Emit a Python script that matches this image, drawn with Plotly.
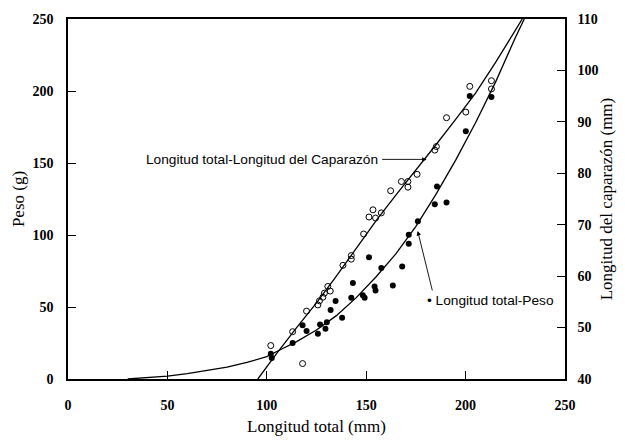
import plotly.graph_objects as go

# Longitud total (mm) vs Longitud del caparazón (mm) - open circles (right axis)
lc_x = [102, 118, 113, 120, 125.7, 128.2, 130.7, 131.9, 138.3, 142.5, 142.5, 148.7, 151.4,
        154.7, 153.4, 157.6, 162.3, 167.7, 171, 171, 175.6, 185.3, 184.5, 190.4, 200.1,
        202.1, 213, 213, 126.5, 129]
lc_y = [46.5, 43.0, 49.2, 53.2, 54.4, 55.9, 58.0, 57.1, 62.1, 63.3, 64.0, 68.2, 71.5,
        71.3, 72.9, 72.3, 76.6, 78.4, 78.4, 77.3, 79.8, 85.2, 84.5, 90.8, 91.9,
        96.9, 98.0, 96.4, 55.2, 56.7]

# Longitud total (mm) vs Peso (g) - filled circles (left axis)
lp_x = [102, 102.5, 113, 118, 120, 125.7, 126.8, 129.5, 130.2, 132.1, 134.6, 137.9, 142.5,
        143.3, 148.3, 149.2, 151.4, 154.2, 154.7, 157.6, 163.4, 168.1, 171.4, 171.4,
        176, 184.5, 185.6, 190.4, 200.1, 202.1, 213]
lp_y = [17.5, 14.5, 25, 37.4, 33.4, 31.4, 37.8, 34.9, 39.4, 47.9, 54.2, 42.5, 56.5,
        66.7, 58.2, 56.5, 84.5, 64.3, 61.4, 77.1, 65, 78.2, 100.1, 93.9,
        109.5, 121.4, 133.7, 122.5, 172, 196.5, 195.8]

# Fitted curves
fit_p_x = [30, 40, 50, 60, 70, 80, 90, 100, 107, 115, 125, 135, 145, 155, 165, 175, 185,
           195, 205, 215, 225, 229.5]
fit_p_y = [0, 0.8, 2, 3.7, 5.8, 8.3, 11.5, 15.5, 20.5, 26, 34, 44, 56.5, 71, 87, 106, 128,
           152, 178, 206, 237, 250]

fit_c_x = [95.5, 105, 115, 125, 135, 145, 155, 165, 175, 185, 195, 205, 215, 225, 228.5]
fit_c_y = [40, 45, 50, 54.8, 60, 65.5, 70.8, 75.8, 80.6, 85.5, 90.5, 95.6, 101.5, 108, 110]

x_ticks = [0, 50, 100, 150, 200, 250]
y_ticks = [0, 50, 100, 150, 200, 250]
y2_ticks = [40, 50, 60, 70, 80, 90, 100, 110]

fig = go.Figure()
fig.add_trace(go.Scatter(x=fit_p_x, y=fit_p_y, mode="lines",
                         line=dict(color="black", width=1.3), yaxis="y", showlegend=False))
fig.add_trace(go.Scatter(x=fit_c_x, y=fit_c_y, mode="lines",
                         line=dict(color="black", width=1.3), yaxis="y2", showlegend=False))
fig.add_trace(go.Scatter(x=lp_x, y=lp_y, mode="markers",
                         marker=dict(symbol="circle", size=6, color="black"),
                         yaxis="y", showlegend=False))
fig.add_trace(go.Scatter(x=lc_x, y=lc_y, mode="markers",
                         marker=dict(symbol="circle-open", size=6, color="black",
                                     line=dict(width=1)),
                         yaxis="y2", showlegend=False))

tick_font = dict(family="Liberation Serif", size=14, color="black", weight="bold")
title_font = dict(family="Liberation Serif", size=17, color="black")

fig.update_layout(
    width=625, height=445,
    margin=dict(l=68, r=60, t=12, b=61),
    paper_bgcolor="white", plot_bgcolor="white",
    xaxis=dict(range=[0, 250], tickvals=x_ticks, ticks="inside", ticklen=8,
               tickcolor="black", showline=True, linecolor="black", linewidth=1.5,
               mirror=True, showgrid=False, zeroline=False, tickfont=tick_font,
               ticklabelstandoff=12,
               title=dict(text="Longitud total (mm)", font=title_font, standoff=9)),
    yaxis=dict(range=[0, 250], tickvals=y_ticks, ticks="inside", ticklen=8,
               tickcolor="black", showline=True, linecolor="black", linewidth=1.5,
               showgrid=False, zeroline=False, tickfont=tick_font,
               ticklabelstandoff=10,
               title=dict(text="Peso (g)", font=title_font, standoff=4)),
    yaxis2=dict(range=[40, 110], tickvals=y2_ticks, ticks="inside", ticklen=8,
                tickcolor="black", showline=True, linecolor="black", linewidth=1.5,
                overlaying="y", side="right", anchor="x",
                showgrid=False, zeroline=False, tickfont=tick_font,
                ticklabelstandoff=8,
                title=dict(text="Longitud del caparazón (mm)", font=title_font, standoff=3)),
)

ann_font = dict(family="Liberation Sans", size=13.7, color="black")
fig.add_annotation(x=38.3, y=152.5, xref="x", yref="y", xanchor="left", yanchor="middle",
                   text="Longitud total-Longitud del Caparazón", showarrow=False, font=ann_font)
fig.add_annotation(x=180.4, y=152.5, xref="x", yref="y", text="", showarrow=True,
                   ax=-46, ay=0, arrowhead=2, arrowsize=1, arrowwidth=0.9, arrowcolor="black")
fig.add_annotation(x=179.5, y=54.4, xref="x", yref="y", xanchor="left", yanchor="middle",
                   text="• Longitud total-Peso", showarrow=False, font=ann_font)
fig.add_annotation(x=175.9, y=102.8, xref="x", yref="y", text="", showarrow=True,
                   ax=15, ay=61, arrowhead=2, arrowsize=1, arrowwidth=0.9, arrowcolor="black")

fig.write_html("out.html")
